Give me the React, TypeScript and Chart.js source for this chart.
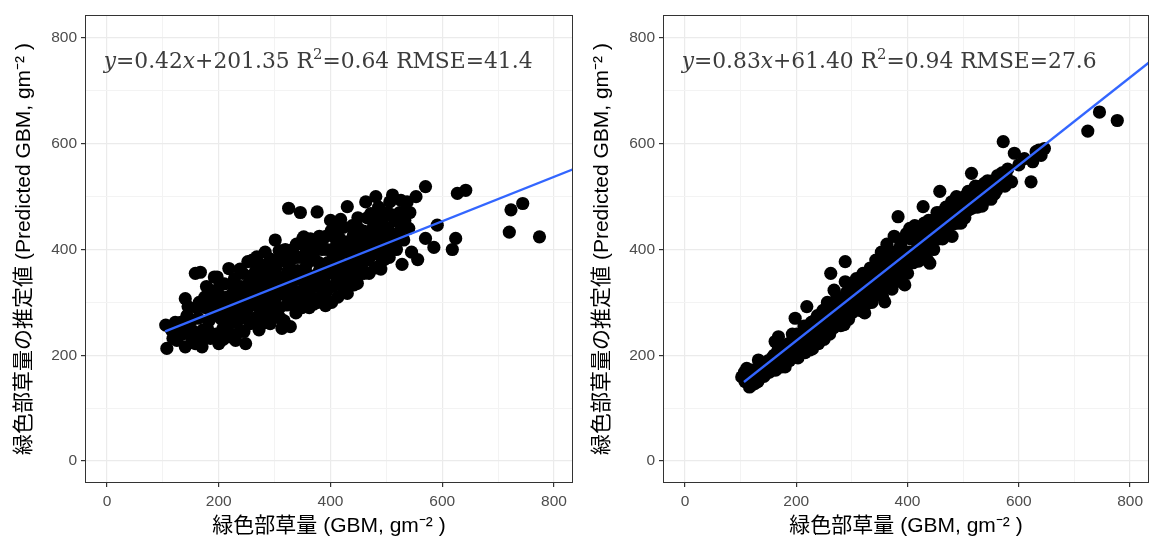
import React, { useEffect, useRef } from 'react';
import { Chart, registerables } from 'chart.js';

Chart.register(...registerables);

const xAxisMin = -39.5;
const xAxisMax = 834;
const yAxisMin = -41.6;
const yAxisMax = 843.5;
const majorTicks = [0, 200, 400, 600, 800];
const minorTicks = [100, 300, 500, 700];
const xTitle = '緑色部草量 (GBM, gm⁻² )';
const yTitle = '緑色部草量の推定値 (Predicted GBM, gm⁻² )';

// [observed GBM, predicted GBM] — left panel
const leftPoints: [number, number][] = [
  [105,257],[107,213],[118,232],[122,262],[128,245],[140,216],[140,307],[143,275],[148,250],[152,232],
  [158,355],[160,290],[163,270],[167,357],[170,216],[172,248],[175,310],[178,330],[182,265],[185,232],
  [190,290],[192,348],[197,348],[200,222],[200,315],[203,270],[207,250],[210,335],[213,295],[218,364],
  [220,235],[222,280],[225,318],[228,345],[232,262],[235,300],[238,363],[240,330],[245,245],[248,222],
  [250,285],[252,377],[255,310],[258,350],[260,380],[262,265],[265,330],[268,386],[270,295],[272,248],
  [275,355],[278,318],[280,275],[283,395],[286,340],[290,300],[292,260],[295,370],[298,325],[301,418],
  [303,285],[305,350],[308,398],[310,270],[313,251],[315,315],[318,378],[320,340],[322,295],[325,478],
  [328,254],[330,360],[332,400],[335,320],[338,280],[340,385],[343,345],[346,470],[348,300],[350,420],
  [352,424],[355,365],[358,325],[360,395],[362,290],[365,350],[368,410],[370,297],[372,380],[375,330],
  [376,471],[380,425],[380,360],[383,310],[385,400],[388,345],[391,294],[392,425],[395,375],[398,330],
  [400,455],[402,300],[405,390],[408,355],[410,420],[413,310],[415,440],[418,457],[420,370],[422,340],
  [423,442],[425,395],[428,320],[430,481],[430,317],[432,415],[435,360],[438,380],[441,428],[442,333],
  [445,400],[448,348],[448,336],[450,440],[452,370],[455,420],[458,390],[460,355],[463,490],[465,410],
  [468,380],[472,468],[475,430],[478,400],[481,500],[484,428],[487,459],[488,370],[490,400],[490,363],
  [493,445],[496,381],[499,416],[502,470],[505,385],[508,430],[511,503],[515,455],[518,400],[520,453],
  [522,431],[526,493],[528,372],[531,418],[535,474],[540,440],[545,395],[553,500],[556,381],[570,519],
  [570,421],[585,404],[591,446],[618,400],[624,421],[627,506],[642,512],[720,433],[723,475],[744,487],
  [774,424],
  [115,248],[125,228],[132,262],[135,240],[145,292],[150,265],[155,245],[158,222],[165,300],[168,232],
  [176,290],[180,250],[183,305],[187,275],[188,322],[195,240],[196,300],[202,335],[205,285],[208,230],
  [212,265],[215,310],[217,245],[223,300],[226,265],[229,330],[230,228],[236,285],[238,245],[242,315],
  [243,355],[246,270],[250,300],[253,335],[256,260],[260,320],[263,295],[266,360],[268,272],[271,345],
  [274,310],[277,260],[279,370],[281,330],[284,290],[287,360],[289,318],[292,382],[294,340],[297,272],
  [300,305],[302,365],[306,330],[309,290],[311,380],[314,345],[317,265],[319,400],[321,320],[324,360],
  [327,300],[329,380],[333,340],[336,300],[339,410],[341,360],[344,320],[347,385],[349,290],[351,340],
  [354,405],[357,310],[359,375],[361,350],[364,420],[366,310],[369,390],[371,340],[373,410],[377,300],
  [379,375],[382,340],[386,420],[389,370],[393,320],[394,400],[397,355],[401,435],[404,330],[407,375],
  [409,405],[412,345],[414,385],[417,420],[421,330],[424,360],[427,410],[433,340],[436,395],[439,445],
  [440,360],[444,380],[447,420],[449,460],[453,395],[456,365],[459,435],[462,405],[466,460],[469,355],
  [471,420],[474,390],[477,445],[480,365],[483,410],[486,480],[489,430],[492,385],[495,460],[498,400],
  [503,440],[506,490],[509,405],[512,465],[516,420],[524,470],[527,440],[533,455],[537,490],[542,470],
];

// [observed GBM, predicted GBM] — right panel
const rightPoints: [number, number][] = [
  [102,159],[107,168],[111,175],[108,150],[118,160],[122,145],[126,147],[129,170],[132,191],[135,160],
  [140,176],[145,165],[150,190],[155,178],[160,200],[162,226],[165,185],[168,235],[170,205],[174,178],
  [178,215],[182,195],[186,222],[190,205],[193,240],[198,270],[200,220],[203,195],[206,240],[210,215],
  [214,255],[219,292],[220,232],[224,210],[227,262],[230,245],[234,225],[238,275],[241,255],[245,235],
  [248,285],[251,262],[252,241],[256,300],[258,272],[262,355],[262,250],[265,290],[268,323],[270,268],
  [273,310],[276,282],[280,256],[283,300],[288,377],[288,339],[290,318],[292,275],[295,300],[298,330],
  [302,285],[305,315],[308,345],[312,298],[315,330],[318,285],[320,355],[323,280],[326,315],[330,345],
  [333,365],[336,300],[340,330],[343,380],[346,350],[350,315],[353,395],[356,365],[359,301],[360,340],
  [363,410],[366,380],[370,355],[372,325],[376,425],[378,395],[380,365],[383,462],[385,340],[388,410],
  [391,380],[395,333],[398,430],[400,355],[403,395],[406,420],[410,375],[413,445],[416,400],[420,378],
  [423,425],[426,390],[428,481],[430,450],[433,410],[436,380],[440,374],[440,430],[444,455],[447,400],
  [450,440],[453,470],[456,420],[458,510],[460,445],[463,420],[467,430],[470,465],[473,445],[476,480],
  [480,425],[483,460],[486,495],[490,450],[493,475],[496,450],[500,490],[503,460],[507,500],[510,475],
  [515,544],[515,478],[519,495],[522,520],[526,480],[530,505],[534,482],[538,525],[542,495],[546,510],
  [550,495],[553,530],[556,505],[560,512],[565,530],[570,545],[575,520],[580,552],[572,604],[587,528],
  [592,582],[600,560],[610,572],[622,528],[625,566],[631,585],[636,588],[640,578],[646,591],[724,624],
  [745,660],[777,644],
  [113,155],[116,140],[120,172],[124,158],[131,150],[137,185],[142,160],[147,180],[152,168],[157,195],
  [163,172],[167,210],[172,190],[176,200],[180,178],[184,210],[188,190],[192,222],[196,200],[201,240],
  [205,208],[208,228],[212,238],[216,205],[218,250],[222,225],[226,243],[229,212],[232,265],[236,240],
  [240,222],[243,268],[247,250],[250,230],[254,278],[257,255],[260,240],[264,272],[267,252],[271,295],
  [274,262],[278,300],[281,270],[285,290],[286,258],[291,305],[294,268],[297,315],[300,280],[304,330],
  [307,290],[310,320],[314,285],[317,340],[321,300],[324,335],[328,298],[331,320],[335,350],[338,310],
  [342,345],[345,315],[348,370],[352,335],[355,312],[358,380],[362,330],[365,360],[368,330],[371,395],
  [374,345],[377,375],[381,345],[384,400],[387,360],[390,420],[394,365],[397,395],[401,372],[404,440],
  [408,390],[411,420],[415,385],[418,440],[421,400],[425,415],[429,395],[432,440],[435,420],[438,455],
  [442,410],[446,440],[449,420],[452,455],[455,440],[459,470],[462,435],[466,455],[469,480],[472,440],
  [475,460],[479,490],[482,448],[485,470],[488,500],[492,460],[495,485],[499,470],[502,500],[505,475],
  [509,510],[512,490],[517,505],[520,480],[524,510],[528,490],[532,520],[536,500],[540,515],[544,530],
  [548,505],[552,520],[558,530],[562,540],[568,525],[577,540],
];

const leftFit = { slope: 0.42, intercept: 201.35, xStart: 104 };
const rightFit = { slope: 0.83, intercept: 61.4, xStart: 106 };

type Seg = { text: string; italic?: boolean; sup?: boolean };
const leftLabel: Seg[] = [
  { text: 'y', italic: true }, { text: '=0.42' }, { text: 'x', italic: true },
  { text: '+201.35 R' }, { text: '2', sup: true }, { text: '=0.64 RMSE=41.4' },
];
const rightLabel: Seg[] = [
  { text: 'y', italic: true }, { text: '=0.83' }, { text: 'x', italic: true },
  { text: '+61.40 R' }, { text: '2', sup: true }, { text: '=0.94 RMSE=27.6' },
];

const sansFamily = '"Liberation Sans", "Noto Sans CJK JP", Arial, sans-serif';

const panelPlugin = {
  id: 'panel',
  afterDraw(chart: any, _args: any, opts: any) {
    const { ctx, chartArea: a, scales } = chart;
    ctx.save();
    const fs = opts.fontSize;
    let x = scales.x.getPixelForValue(opts.x);
    const y = scales.y.getPixelForValue(opts.y);
    ctx.fillStyle = '#3c3c3c';
    ctx.textBaseline = 'alphabetic';
    ctx.textAlign = 'left';
    for (const seg of opts.segments as Seg[]) {
      const size = seg.sup ? fs * 0.68 : fs;
      ctx.font = `${seg.italic ? 'italic ' : ''}${size}px "DejaVu Serif", serif`;
      ctx.fillText(seg.text, x, seg.sup ? y - fs * 0.42 : y);
      x += ctx.measureText(seg.text).width;
    }
    ctx.strokeStyle = '#333333';
    ctx.lineWidth = 1;
    const l = Math.round(a.left), t = Math.round(a.top);
    const r = Math.round(a.right), b = Math.round(a.bottom);
    ctx.strokeRect(l + 0.5, t + 0.5, r - l - 1, b - t - 1);
    ctx.restore();
  },
};

function isMajor(v: number) {
  return majorTicks.includes(v);
}

function makeScale(axis: 'x' | 'y', size: number, titlePad: any) {
  return {
    type: 'linear',
    min: axis === 'x' ? xAxisMin : yAxisMin,
    max: axis === 'x' ? xAxisMax : yAxisMax,
    afterBuildTicks: (sc: any) => {
      sc.ticks = [...majorTicks, ...minorTicks].sort((p, q) => p - q).map((v) => ({ value: v }));
    },
    afterFit: (sc: any) => {
      if (axis === 'y') sc.width = size;
      else sc.height = size;
    },
    border: { display: false },
    grid: {
      color: (c: any) => (c.tick && isMajor(c.tick.value) ? '#EBEBEB' : '#F3F3F3'),
      lineWidth: (c: any) => (c.tick && isMajor(c.tick.value) ? 1.2 : 1),
      tickColor: (c: any) => (c.tick && isMajor(c.tick.value) ? '#333333' : 'rgba(0,0,0,0)'),
      tickLength: 4,
      drawTicks: true,
    },
    ticks: {
      autoSkip: false,
      maxRotation: 0,
      minRotation: 0,
      padding: axis === 'x' ? 5 : 4,
      color: '#4D4D4D',
      font: { family: sansFamily, size: 15.5 },
      callback: (v: any) => (isMajor(Number(v)) ? String(v) : ''),
    },
    title: {
      display: true,
      text: axis === 'x' ? xTitle : yTitle,
      color: '#000000',
      font: { family: sansFamily, size: 21 },
      padding: titlePad,
    },
  };
}

function Panel(props: {
  points: [number, number][];
  fit: { slope: number; intercept: number; xStart: number };
  label: Seg[];
  yAxisWidth: number;
  padRight: number;
  yTitleTop: number;
}) {
  const ref = useRef<HTMLCanvasElement>(null);
  useEffect(() => {
    if (!ref.current) return;
    const { fit } = props;
    const chart = new Chart(ref.current, {
      type: 'scatter',
      data: {
        datasets: [
          {
            type: 'line',
            data: [
              { x: fit.xStart, y: fit.slope * fit.xStart + fit.intercept },
              { x: xAxisMax, y: fit.slope * xAxisMax + fit.intercept },
            ],
            borderColor: '#3366FF',
            borderWidth: 2.3,
            pointRadius: 0,
            showLine: true,
            fill: false,
            tension: 0,
          } as any,
          {
            type: 'scatter',
            data: props.points.map(([x, y]) => ({ x, y })),
            backgroundColor: '#000000',
            borderWidth: 0,
            pointRadius: 6.6,
            pointHoverRadius: 6.6,
          } as any,
        ],
      },
      options: {
        responsive: false,
        animation: false,
        devicePixelRatio: 1,
        layout: { autoPadding: false, padding: { top: 15, right: props.padRight, left: 0, bottom: 0 } },
        plugins: {
          legend: { display: false },
          tooltip: { enabled: false },
          panel: { x: -6, y: 743, fontSize: 21.8, segments: props.label },
        } as any,
        scales: {
          x: makeScale('x', 60, { top: 0, bottom: 4 }),
          y: makeScale('y', props.yAxisWidth, { top: props.yTitleTop, bottom: 0 }),
        } as any,
      },
      plugins: [panelPlugin],
    });
    return () => chart.destroy();
  }, []);
  return <canvas ref={ref} width={575} height={543} style={{ display: 'block', width: 575, height: 543 }} />;
}

export default function App() {
  return (
    <div
      style={{
        position: 'absolute',
        left: 0,
        top: 0,
        width: 1150,
        height: 543,
        display: 'flex',
        background: '#ffffff',
      }}
    >
      <Panel points={leftPoints} fit={leftFit} label={leftLabel} yAxisWidth={85} padRight={2} yTitleTop={12} />
      <Panel points={rightPoints} fit={rightFit} label={rightLabel} yAxisWidth={88} padRight={1} yTitleTop={15} />
    </div>
  );
}
